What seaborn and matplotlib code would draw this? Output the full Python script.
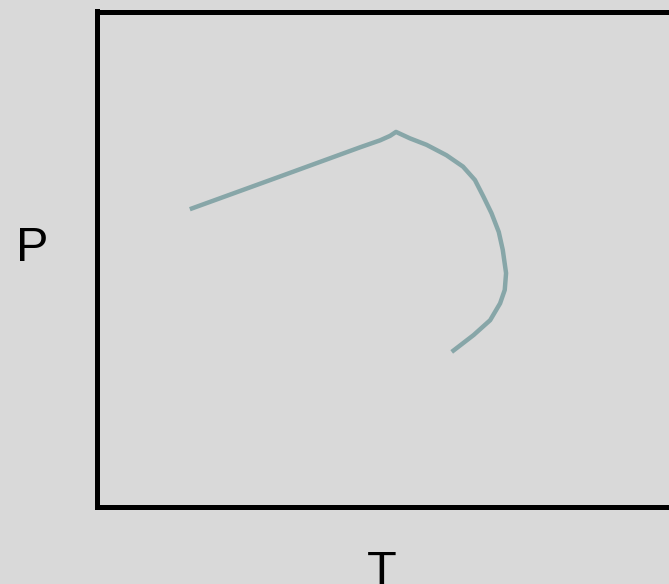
import matplotlib
matplotlib.use("Agg")
import matplotlib.pyplot as plt
import seaborn as sns
import pandas as pd

# Data (arbitrary T / P units)
temperature = [1.40, 2.76, 3.97, 4.27, 4.42, 4.51, 4.72, 4.97, 5.27, 5.52, 5.70,
               5.83, 5.95, 6.06, 6.12, 6.17, 6.15, 6.08, 5.93, 5.68, 5.35]
pressure = [6.01, 6.67, 7.26, 7.40, 7.49, 7.57, 7.44, 7.31, 7.10, 6.87, 6.60,
            6.26, 5.93, 5.55, 5.19, 4.72, 4.38, 4.11, 3.77, 3.47, 3.13]
x_label = "T"
y_label = "P"

df = pd.DataFrame({"T": temperature, "P": pressure})

sns.set_theme(style="white")
plt.rcParams["font.family"] = ["Liberation Sans", "DejaVu Sans"]

bg = "#d9d9d9"
fig = plt.figure(figsize=(6.69, 5.84), dpi=100, facecolor=bg)
ax = fig.add_axes([97 / 669, 77 / 584, 663 / 669, 495.5 / 584])
ax.set_facecolor(bg)

sns.lineplot(data=df, x="T", y="P", sort=False, estimator=None,
             color="#87a6a8", linewidth=3.2, ax=ax,
             solid_joinstyle="round", solid_capstyle="butt")

ax.set_xlim(0, 10)
ax.set_ylim(0, 10)
ax.set_xticks([])
ax.set_yticks([])
for s in ax.spines.values():
    s.set_visible(True)
    s.set_color("black")
    s.set_linewidth(3.6)

ax.set_xlabel(x_label, fontsize=35, color="black", va="baseline", ha="center")
ax.set_ylabel(y_label, fontsize=35, color="black", rotation=0, va="baseline", ha="center")
ax.xaxis.set_label_coords((381.7 - 97) / 663, (507 - 585) / 495.5)
ax.yaxis.set_label_coords((32 - 97) / 663, (507 - 261) / 495.5)

fig.savefig("out.png", dpi=100, facecolor=bg)
